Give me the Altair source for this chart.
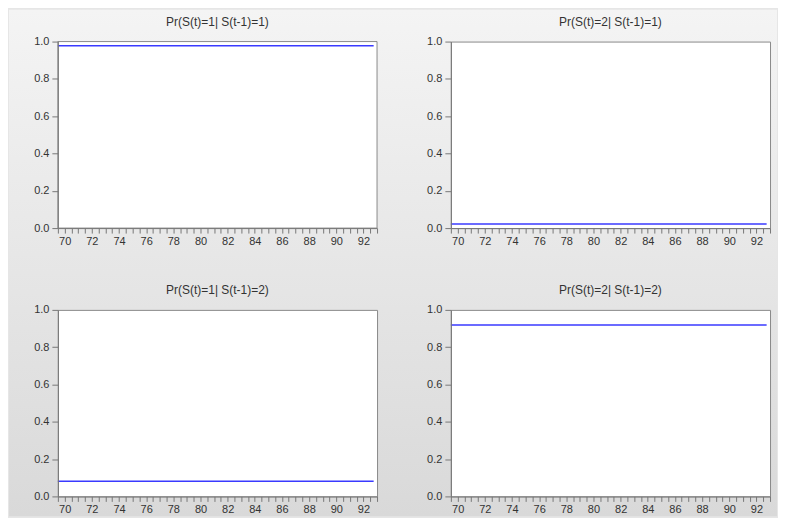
import altair as alt
import pandas as pd

# Observation times (quarterly, 1969Q3 .. 1992Q4)
t = [1969.5 + 0.25 * i for i in range(94)]

titles = [
    "Pr(S(t)=1| S(t-1)=1)",
    "Pr(S(t)=2| S(t-1)=1)",
    "Pr(S(t)=1| S(t-1)=2)",
    "Pr(S(t)=2| S(t-1)=2)",
]
p11 = [0.978] * len(t)
p21 = [0.022] * len(t)
p12 = [0.081] * len(t)
p22 = [0.919] * len(t)

x_ticks = [1969.5 + 0.5 * i for i in range(48)]
y_ticks = [0.0, 0.2, 0.4, 0.6, 0.8, 1.0]

W, H = 320, 187
FONT = "Liberation Sans"
LINE = "#3a3aff"

gradient = alt.LinearGradient(
    gradient="linear",
    stops=[alt.GradientStop(offset=0, color="#f4f4f4"),
           alt.GradientStop(offset=1, color="#d9d9d9")],
    x1=0, x2=0, y1=0, y2=1,
)


def make_panel(title, vals, base=False):
    df = pd.DataFrame({"t": t, "p": vals})
    one = pd.DataFrame({"title": [title]})
    x = alt.X(
        "t:Q",
        scale=alt.Scale(domain=[1969.5, 1993.0], nice=False, zero=False),
        axis=alt.Axis(
            values=x_ticks,
            labelExpr="datum.value % 2 == 0 ? format(datum.value % 100, '02d') : ''",
            title=None, grid=False, zindex=1, labelOverlap=False,
            labelFlush=False, labelBound=False, tickSize=5, labelPadding=2,
        ),
    )
    y = alt.Y(
        "p:Q",
        scale=alt.Scale(domain=[0, 1], nice=False, zero=False),
        axis=alt.Axis(values=y_ticks, format=".1f", title=None, grid=False,
                      zindex=1, tickSize=6, labelPadding=3),
    )
    line = alt.Chart(df).mark_line(color=LINE, strokeWidth=1.6).encode(x=x, y=y)
    head = alt.Chart(one).mark_text(
        font=FONT, fontSize=12, color="#333333", align="center", baseline="middle"
    ).encode(text="title:N", x=alt.value(W / 2), y=alt.value(-20))
    layers = []
    if base:
        bg = alt.Chart(one).mark_rect(fill=gradient, strokeWidth=0).encode(
            x=alt.value(-49), x2=alt.value(721), y=alt.value(-32), y2=alt.value(476)
        )
        frame = alt.Chart(one).mark_rect(fill="white", stroke="#8a8a8a", strokeWidth=1).encode(
            x=alt.value(0), x2=alt.value(W), y=alt.value(0), y2=alt.value(H)
        )
        layers = [bg, frame]
    return alt.layer(*layers, line, head).properties(width=W, height=H)


c1 = make_panel(titles[0], p11, base=True)
c2 = make_panel(titles[1], p21)
c3 = make_panel(titles[2], p12)
c4 = make_panel(titles[3], p22)

chart = (
    alt.concat(c1, c2, c3, c4, columns=2,
               spacing={"row": 82, "column": 74}, bounds="flush")
    .properties(padding=0, background="#e6e6e6")
    .configure_view(fill="white", stroke="#8a8a8a", strokeWidth=1)
    .configure_axis(
        labelFont=FONT, labelFontSize=11, labelColor="#333333",
        domainColor="#777777", tickColor="#777777",
    )
)

chart.save("out.html", embed_options={"renderer": "svg", "actions": False})
